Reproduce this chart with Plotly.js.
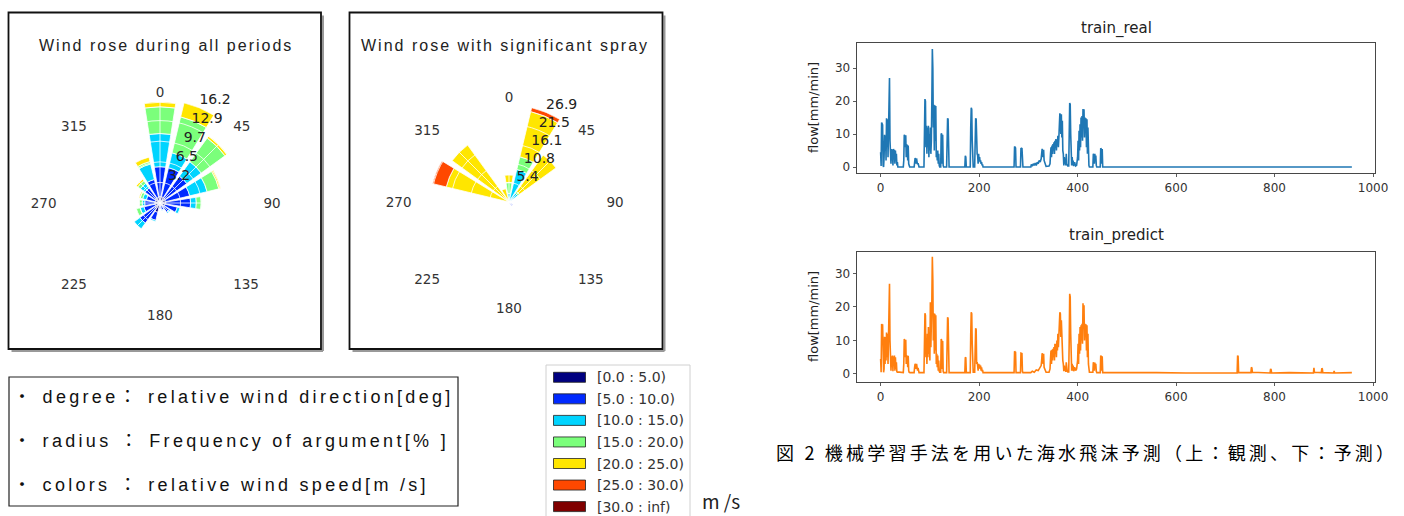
<!DOCTYPE html>
<html><head><meta charset="utf-8">
<script src="https://cdn.plot.ly/plotly-3.0.1.min.js"></script>
<style>
html,body{margin:0;padding:0;background:#fff;}
#chart{width:1404px;height:516px;}
text.annotation-text[data-unformatted^="Wind rose"]{letter-spacing:2px;}
text.annotation-text[data-unformatted^="・"]{letter-spacing:3.3px;}
text.annotation-text[data-unformatted^="図"]{letter-spacing:3.2px;}
</style></head><body><div id="chart"></div><script>
// ---------------- data ----------------
const directions = [0,22.5,45,67.5,90,112.5,135,157.5,180,202.5,225,247.5,270,292.5,315,337.5];
const angTickVals = [0,45,90,135,180,225,270,315];
const angTickText = ['0','45','90','135','180','225','270','315'];
const speedLabels = ['[0.0 : 5.0)','[5.0 : 10.0)','[10.0 : 15.0)','[15.0 : 20.0)','[20.0 : 25.0)','[25.0 : 30.0)','[30.0 : inf)'];
const speedColors = ['#000080','#0029ff','#00d4ff','#7bff7b','#ffe600','#ff4800','#800000'];

// Wind rose during all periods (% per direction, per speed bin)
const all_0_5   = [1.0,1.0,1.0,0.9,0.9,0.8,0.6,0.5,0.5,1.5,1.0,0.8,0.8,0.8,0.9,0.9];
const all_5_10  = [4.7,4.7,4.2,3.9,3.9,2.0,1.2,0.6,0.4,1.3,2.9,1.8,1.6,1.4,2.0,2.9];
const all_10_15 = [5.2,2.4,2.8,2.8,0.9,0.5,0.2,0.1,0.0,0.2,1.1,0.6,0.4,0.6,0.9,2.5];
const all_15_20 = [4.2,5.8,4.6,1.9,0.8,0,0,0,0,0,0,0.6,0.5,0.4,0.5,0.4];
const all_20_25 = [0.7,2.26,0.4,0.3,0,0,0,0,0,0,0,0,0,0.2,0.3,0.7];
const all_25_30 = [0,0,0,0,0,0,0,0,0,0,0,0,0,0,0,0];
const all_30_inf= [0,0,0,0,0,0,0,0,0,0,0,0,0,0,0,0];
const radialTicks1 = [3.23,6.46,9.7,12.93,16.16];
const radialLabels1 = ['3.2','6.5','9.7','12.9','16.2'];

// Wind rose with significant spray
const spr_0_5   = [0,0,0,0,0,0,0.3,0,0,0,0,0,0,0,0,0];
const spr_5_10  = [0,1.0,0.3,0,0,0,1.0,0,0,0,0,0,0,0,0,0];
const spr_10_15 = [2.4,8.3,2.7,0,0,0,0,0,0,0,0,0,0,0,0,0.5];
const spr_15_20 = [3.0,3.6,0.6,0,0,0,0,0,0,0,0,0,0,0,0,0.5];
const spr_20_25 = [2.1,12.9,12.6,0,0,0,0,0,0,0,0,0,0,17.9,19.5,2.8];
const spr_25_30 = [0,1.1,0,0,0,0,0,0,0,0,0,0,0,3.9,0,0];
const spr_30_inf= [0,0,0,0,0,0,0,0,0,0,0,0,0,0,0,0];
const radialTicks2 = [5.38,10.76,16.14,21.52,26.9];
const radialLabels2 = ['5.4','10.8','16.1','21.5','26.9'];

const roseTitles = ['Wind rose during all periods','Wind rose with significant spray'];
const infoLines = ['・ degree： relative wind direction[deg]','・ radius ： Frequency of argument[% ]','・ colors ： relative wind speed[m /s]'];
const unitText = 'm /s';
const seriesTitles = ['train_real','train_predict'];
const yLabel = 'flow[mm/min]';
const caption = '図 2 機械学習手法を用いた海水飛沫予測（上：観測、下：予測）';
const xTickVals = [0,200,400,600,800,1000];
const yTickVals = [0,10,20,30];

// time series: [index, flow]
const realSeries = [[0,4.5],[1,0.3],[2,13.5],[3,13.2],[4,12.8],[5,0.5],[6,0],
[7,3],[8,9.8],[9,5],[10,9.5],[11,2],[12,14.8],[13,6],[14,14.5],[15,3],[16,10],[17,22],[18,27],[19,8],[20,5.5],[21,1],[22,5.5],[23,2],[24,5.3],[25,0.5],[26,5.5],[27,3],[28,5.2],[29,1],[30,5],[31,2],[32,4],[33,0.5],[34,1.5],[35,0],
[46,0],[47,2],[48,9.8],[49,9.5],[50,6],[51,9.6],[52,3],[53,6.8],[54,6.5],[55,2],[56,6.5],[57,1],[58,0.5],[59,0],
[68,0],[69,1.5],[70,2.7],[71,2.5],[72,1],[73,2.6],[74,1.5],[75,0.8],[76,1.2],[77,0.3],[78,0],
[88,0],[89,8],[90,20.6],[91,20],[92,6],[93,12.5],[94,4],[95,12],[96,6],[97,12.5],[98,3],[99,10],[100,5],[101,12],[102,4],[103,8],[104,20],[105,35.8],[106,30],[107,12],[108,18.9],[109,5],[110,18.7],[111,8],[112,18.5],[113,3],[114,5],[115,2],[116,5],[117,1],[118,4],[119,0.5],[120,0],
[122,0],[123,10.2],[124,10],[125,1],[126,9.8],[127,0.5],[128,0],
[134,0],[135,12],[136,14.8],[137,14.5],[138,2],[139,0],
[171,0],[172,3.4],[173,3],[174,0],
[182,0],[183,12],[184,18],[185,17.5],[186,8],[187,0.5],[188,0],
[191,0],[192,10],[193,14.8],[194,14.5],[195,4],[196,4],[197,3.5],[198,1],[199,4],[200,2],[201,3],[202,1.5],[203,2],[204,1],[205,1.5],[206,0.5],[207,0.8],[208,0],
[271,0],[272,6.2],[273,6],[274,5.8],[275,0],
[284,0],[285,5.8],[286,5.6],[287,5.8],[288,0.5],[289,0],
[305,0],[306,0.8],[308,0.3],[310,1],[312,0.5],[314,1.2],[316,0.5],[318,1.5],[320,1],[322,2],[324,1.5],[326,2.5],[327,4],[328,5.5],[329,5],[330,3],[331,5.2],[332,2],[333,1.5],[334,0.5],[336,0.2],[342,0.3],
[344,1],[345,4],[346,6],[347,3],[348,6.5],[349,4],[350,7],[351,5],[352,7.5],[353,4],[354,8],[355,6],[356,8.5],[357,5],[358,8],[359,7],[360,9.5],[361,6],[362,9],[363,12],[364,16.3],[365,15.5],[366,10],[367,16],[368,9],[369,14],[370,5],[371,4],[372,0.5],[373,3],[374,1],[375,2.5],[376,0.5],[377,4],[378,1],[379,0.5],[380,0.3],
[382,0.3],[383,8],[384,19.4],[385,19],[386,10],[387,2],[388,0.5],[389,3],[390,0.5],[391,2],[392,0.3],[394,1.5],[396,0.3],[398,0.5],
[400,3],[401,8],[402,2],[403,11],[404,5],[405,13],[406,6],[407,15],[408,9],[409,15.5],[410,8],[411,17.6],[412,12],[413,17.5],[414,9],[415,15],[416,11],[417,14.8],[418,6],[419,14.5],[420,4],[421,12],[422,3],[423,0.5],[424,0],
[431,0],[432,4],[433,3.8],[434,1],[435,4],[436,2],[437,3.5],[438,0.5],[439,0],
[446,0],[447,5.7],[448,5.5],[449,1],[450,5.5],[451,0],
[957,0]];

const predSeries = [[0,4.5],[1,0.5],[2,14.9],[3,14.5],[4,14.8],[5,1],[6,0.5],[7,1.5],
[8,11.1],[9,3],[10,11],[11,4],[12,12.4],[13,5],[14,12],[15,3],[16,12],[17,20],[18,26.9],[19,10],[20,5.5],[21,1],[22,5.3],[23,2],[24,5.5],[25,0.8],[26,5.2],[27,2.5],[28,5.5],[29,1],[30,5],[31,1.5],[32,3.5],[33,0.5],[34,0.6],
[46,0.4],[47,3],[48,10.4],[49,10],[50,5],[51,10.2],[52,3],[53,5.5],[54,5.2],[55,2],[56,5.4],[57,1],[58,0.5],[60,0.4],
[68,0.4],[69,2],[70,3],[71,2.8],[72,1.5],[73,3],[74,2],[75,1],[76,1.8],[77,0.6],[78,0.4],
[88,0.4],[89,6],[90,18.1],[91,17.5],[92,5],[93,10],[94,3],[95,12],[96,5],[97,14],[98,6],[99,12],[100,4],[101,21.4],[102,8],[103,12],[104,22],[105,35],[106,28],[107,10],[108,18.1],[109,6],[110,18],[111,7],[112,17.5],[113,3],[114,6],[115,2],[116,5.5],[117,1],[118,4],[119,0.8],[120,0.5],
[122,0.5],[123,10.4],[124,10],[125,1.5],[126,9.8],[127,0.8],[128,0.4],
[134,0.4],[135,13],[136,16.9],[137,16.5],[138,3],[139,0.4],
[171,0.4],[172,5],[173,4.8],[174,0.4],
[182,0.4],[183,12],[184,18.4],[185,18],[186,9],[187,1],[188,0.5],
[191,0.5],[192,9],[193,13.6],[194,13.2],[195,3],[196,3.5],[197,2.5],[198,1],[199,3],[200,2],[201,2.8],[202,1.5],[203,2.5],[204,1],[205,2],[206,0.8],[207,1.2],[208,0.4],
[271,0.4],[272,6.8],[273,6.5],[274,6.6],[275,0.4],
[284,0.4],[285,6.2],[286,6],[287,6.1],[288,0.8],[289,0.4],
[305,0.4],[308,0.8],[312,0.5],[316,1.2],[320,1],[324,2],[326,2.5],[327,4],[328,6.2],[329,5.8],[330,3],[331,6],[332,2],[333,1.5],[334,0.8],[336,0.5],[342,0.5],
[344,1.5],[345,4.5],[346,7],[347,3],[348,7.2],[349,4],[350,7.5],[351,5],[352,8],[353,4],[354,9],[355,6],[356,9],[357,5],[358,10],[359,7],[360,12],[361,8],[362,14],[363,12],[364,18.4],[365,18],[366,11],[367,16],[368,8],[369,12],[370,4],[371,3],[372,0.8],[373,2.5],[374,1],[375,2],[376,0.6],[377,3.5],[378,1],[379,0.8],[380,0.6],
[382,0.6],[383,10],[384,23.9],[385,23],[386,12],[387,3],[388,1],[389,3],[390,1],[391,2.5],[392,0.8],[394,2],[396,1],[398,1.5],
[400,4],[401,9],[402,3],[403,12],[404,6],[405,14],[406,7],[407,14.5],[408,10],[409,15],[410,9],[411,21.1],[412,14],[413,20.5],[414,10],[415,15],[416,12],[417,14.8],[418,7],[419,14.5],[420,5],[421,12],[422,3],[423,1],[424,0.5],
[431,0.5],[432,3.5],[433,3.2],[434,1],[435,3.4],[436,2],[437,3],[438,0.8],[439,0.4],
[446,0.4],[447,5.5],[448,5.2],[449,1],[450,5.3],[451,0.4],
[500,0.3],[560,0.4],[620,0.3],[680,0.4],[724,0.3],[725,5.5],[726,5.2],[727,0.4],
[752,0.4],[753,2],[754,1.8],[755,0.5],[770,0.4],[791,0.3],[792,1.5],[793,1.3],[794,0.3],[830,0.4],[879,0.3],[880,1.8],[881,0.5],[895,0.4],[896,1.7],[897,1.5],[898,0.4],[920,0.3],[921,0.9],[922,0.3],[957,0.4]];

// ---------------- layout helpers ----------------
const W = 1404, H = 516;
const px = v => v / W;
const py = v => 1 - v / H;
const FONT_MPL = 'DejaVu Sans';
const FONT_JP = 'Liberation Sans, Noto Sans CJK JP';

const allPeriods = [all_0_5, all_5_10, all_10_15, all_15_20, all_20_25, all_25_30, all_30_inf];
const sprayPeriods = [spr_0_5, spr_5_10, spr_10_15, spr_15_20, spr_20_25, spr_25_30, spr_30_inf];

const traces = [];
function addRose(bins, subplot) {
  bins.forEach((r, i) => traces.push({
    type: 'barpolar', subplot: subplot, r: r, theta: directions, width: 18,
    marker: {color: speedColors[i], line: {color: '#ffffff', width: 0.8}},
    name: speedLabels[i], showlegend: false, hoverinfo: 'skip'
  }));
}
function addRadialLabels(ticks, labels, subplot) {
  traces.push({
    type: 'scatterpolar', subplot: subplot, mode: 'text', r: ticks,
    theta: ticks.map(() => 22.5), text: labels, textposition: 'top right',
    textfont: {family: FONT_MPL, size: 14, color: '#222'}, cliponaxis: false,
    showlegend: false, hoverinfo: 'skip'
  });
}
addRose(allPeriods, 'polar');
addRose(sprayPeriods, 'polar3');
addRadialLabels(radialTicks1, radialLabels1, 'polar2');
addRadialLabels(radialTicks2, radialLabels2, 'polar4');

traces.push({type: 'scatter', mode: 'lines', x: realSeries.map(p => p[0]), y: realSeries.map(p => p[1]),
  xaxis: 'x', yaxis: 'y', line: {color: '#1f77b4', width: 1.6}, showlegend: false, hoverinfo: 'skip'});
traces.push({type: 'scatter', mode: 'lines', x: predSeries.map(p => p[0]), y: predSeries.map(p => p[1]),
  xaxis: 'x2', yaxis: 'y2', line: {color: '#ff7f0e', width: 1.6}, showlegend: false, hoverinfo: 'skip'});

function polarBars(cx, cy, R, rmax) {
  return {
    domain: {x: [px(cx - R), px(cx + R)], y: [py(cy + R), py(cy - R)]},
    bgcolor: '#ffffff', barmode: 'stack',
    angularaxis: {rotation: 90, direction: 'clockwise', tickmode: 'array', tickvals: angTickVals, ticktext: angTickText,
      showgrid: false, showline: false, ticks: '', tickfont: {family: FONT_MPL, size: 13.5, color: '#333'}},
    radialaxis: {range: [0, rmax], visible: false, showgrid: false}
  };
}
function polarGrid(cx, cy, R, rmax, ticks) {
  return {
    domain: {x: [px(cx - R), px(cx + R)], y: [py(cy + R), py(cy - R)]},
    bgcolor: 'rgba(0,0,0,0)',
    angularaxis: {rotation: 90, direction: 'clockwise', tickmode: 'array', tickvals: angTickVals,
      showticklabels: false, showgrid: true, gridcolor: '#ffffff', gridwidth: 0.8, showline: false, ticks: ''},
    radialaxis: {range: [0, rmax], tickmode: 'array', tickvals: ticks, showticklabels: false,
      showgrid: true, gridcolor: '#ffffff', gridwidth: 0.8, showline: false, ticks: ''}
  };
}

const axStyle = {ticks: 'outside', ticklen: 3.5, tickwidth: 0.8, tickcolor: '#333', showline: true, mirror: true,
  linecolor: '#333', linewidth: 0.9, showgrid: false, zeroline: false,
  tickfont: {family: FONT_MPL, size: 12, color: '#333'}};

const shapes = [];
function boxWithShadow(x0, y0, x1, y1) {
  shapes.push({type: 'line', xref: 'paper', yref: 'paper', x0: px(x1 + 2), x1: px(x1 + 2), y0: py(y0 + 3), y1: py(y1 + 2), line: {color: '#999', width: 2}});
  shapes.push({type: 'line', xref: 'paper', yref: 'paper', x0: px(x0 + 3), x1: px(x1 + 2), y0: py(y1 + 2), y1: py(y1 + 2), line: {color: '#999', width: 2}});
  shapes.push({type: 'rect', xref: 'paper', yref: 'paper', x0: px(x0), x1: px(x1), y0: py(y0), y1: py(y1), line: {color: '#111', width: 1.8}});
}
boxWithShadow(8.5, 12.5, 321, 349);
boxWithShadow(349.5, 12.5, 662.5, 349);
shapes.push({type: 'rect', xref: 'paper', yref: 'paper', x0: px(9), x1: px(458), y0: py(377), y1: py(506), line: {color: '#222', width: 1.2}});
shapes.push({type: 'rect', xref: 'paper', yref: 'paper', x0: px(546), x1: px(690), y0: py(365), y1: py(530), line: {color: '#d0d0d0', width: 1}});

const annotations = [];
function note(text, x, y, opts) {
  annotations.push(Object.assign({text: text, x: px(x), y: py(y), xref: 'paper', yref: 'paper', showarrow: false,
    xanchor: 'center', yanchor: 'middle'}, opts));
}
note(roseTitles[0], 166, 45, {font: {family: FONT_JP, size: 16, color: '#222'}});
note(roseTitles[1], 505, 45, {font: {family: FONT_JP, size: 16, color: '#222'}});
infoLines.forEach((t, i) => note(t, 11, 397 + 44 * i, {xanchor: 'left', font: {family: FONT_JP, size: 18, color: '#111'}}));
speedLabels.forEach((t, i) => {
  const c = 377.3 + 21.55 * i;
  shapes.push({type: 'rect', xref: 'paper', yref: 'paper', x0: px(553.5), x1: px(585.5), y0: py(c - 5), y1: py(c + 5),
    fillcolor: speedColors[i], line: {color: '#222', width: 0.8}});
  note(t, 595, c, {xanchor: 'left', font: {family: FONT_MPL, size: 14, color: '#333'}});
});
note(unitText, 721, 515, {yanchor: 'bottom', borderpad: 0, font: {family: 'Noto Sans CJK JP', size: 19, color: '#222'}});
note(seriesTitles[0], 1116, 29, {font: {family: FONT_MPL, size: 15, color: '#222'}});
note(seriesTitles[1], 1116, 236, {font: {family: FONT_MPL, size: 15, color: '#222'}});
note(yLabel, 813, 108, {textangle: -90, font: {family: FONT_MPL, size: 13, color: '#222'}});
note(yLabel, 813, 317, {textangle: -90, font: {family: FONT_MPL, size: 13, color: '#222'}});
note(caption, 1086, 452, {font: {family: 'Noto Sans CJK JP', size: 18, color: '#000'}});

const layout = {
  width: W, height: H, autosize: false, margin: {l: 0, r: 0, t: 0, b: 0},
  paper_bgcolor: '#ffffff', plot_bgcolor: '#ffffff', showlegend: false,
  polar: polarBars(160, 203, 103, 16.16),
  polar2: polarGrid(160, 203, 103, 16.16, radialTicks1),
  polar3: polarBars(509, 202, 97, 26.9),
  polar4: polarGrid(509, 202, 97, 26.9, radialTicks2),
  xaxis: Object.assign({}, axStyle, {domain: [px(857), px(1375)], range: [-48, 1004], anchor: 'y', tickmode: 'array', tickvals: xTickVals}),
  yaxis: Object.assign({}, axStyle, {domain: [py(173), py(43)], range: [-1.8, 37.6], anchor: 'x', tickmode: 'array', tickvals: yTickVals}),
  xaxis2: Object.assign({}, axStyle, {domain: [px(857), px(1375)], range: [-48, 1004], anchor: 'y2', tickmode: 'array', tickvals: xTickVals}),
  yaxis2: Object.assign({}, axStyle, {domain: [py(382), py(252)], range: [-2.4, 36.4], anchor: 'x2', tickmode: 'array', tickvals: yTickVals}),
  shapes: shapes, annotations: annotations
};
Plotly.newPlot('chart', traces, layout, {staticPlot: true, displayModeBar: false});
</script></body></html>
